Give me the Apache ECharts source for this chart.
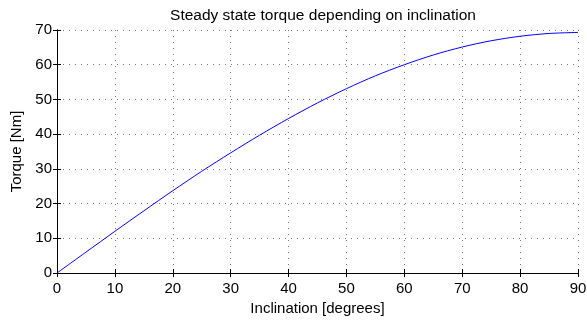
<!DOCTYPE html>
<html>
<head>
<meta charset="utf-8">
<script src="https://cdn.jsdelivr.net/npm/echarts@6/dist/echarts.min.js"></script>
<style>
  html, body { margin: 0; padding: 0; background: #fff; }
  #chart { width: 587px; height: 320px; }
</style>
</head>
<body>
<div id="chart"></div>
<script>
const inclination = [0, 5, 10, 15, 20, 25, 30, 35, 40, 45, 50, 55, 60, 65, 70, 75, 80, 85, 90];
const torque = [0, 6.0, 12.0, 17.9, 23.7, 29.3, 34.6, 39.7, 44.5, 49.0, 53.1, 56.8, 60.0, 62.8, 65.1, 66.9, 68.2, 69.0, 69.3];

const font = 'Liberation Sans, Arial, Helvetica, sans-serif';

const chart = echarts.init(document.getElementById('chart'));

const boxAxis = {
  axisLine: { show: true, lineStyle: { color: '#000', width: 1 } },
  axisTick: { show: true, inside: true, length: 4, lineStyle: { color: '#000' } },
  axisLabel: { show: false },
  splitLine: { show: false },
};

const gridLine = { show: true, lineStyle: { color: '#777', type: [1, 5], width: 1 } };

chart.setOption({
  animation: false,
  backgroundColor: '#fff',
  textStyle: { fontFamily: font },
  title: {
    text: 'Steady state torque depending on inclination',
    left: 318,
    textAlign: 'center',
    top: 3,
    textStyle: { fontFamily: font, fontSize: 15.5, fontWeight: 'normal', color: '#000' },
  },
  grid: { left: 57, right: 9, top: 30, bottom: 47, containLabel: false, outerBoundsMode: 'none' },
  xAxis: [
    {
      type: 'value',
      min: 0,
      max: 90,
      interval: 10,
      name: 'Inclination [degrees]',
      nameLocation: 'middle',
      nameGap: 26,
      nameTextStyle: { fontFamily: font, fontSize: 15, color: '#000' },
      axisLine: { show: true, lineStyle: { color: '#000', width: 1 } },
      axisTick: { show: true, inside: true, length: 4, lineStyle: { color: '#000' } },
      axisLabel: { fontFamily: font, fontSize: 15, color: '#000', margin: 8 },
      splitLine: gridLine,
    },
    Object.assign({ type: 'value', min: 0, max: 90, interval: 10, position: 'top' }, boxAxis),
  ],
  yAxis: [
    {
      type: 'value',
      min: 0,
      max: 70,
      interval: 10,
      name: 'Torque [Nm]',
      nameLocation: 'middle',
      nameGap: 29,
      nameTextStyle: { fontFamily: font, fontSize: 15, color: '#000' },
      axisLine: { show: true, lineStyle: { color: '#000', width: 1 } },
      axisTick: { show: true, inside: true, length: 4, lineStyle: { color: '#000' } },
      axisLabel: { fontFamily: font, fontSize: 15, color: '#000', margin: 5 },
      splitLine: gridLine,
    },
    Object.assign({ type: 'value', min: 0, max: 70, interval: 10, position: 'right' }, boxAxis),
  ],
  series: [
    {
      type: 'line',
      data: inclination.map((x, i) => [x, torque[i]]),
      smooth: 0.3,
      showSymbol: false,
      lineStyle: { color: '#0000ff', width: 1 },
      xAxisIndex: 0,
      yAxisIndex: 0,
    },
  ],
});
</script>
</body>
</html>
